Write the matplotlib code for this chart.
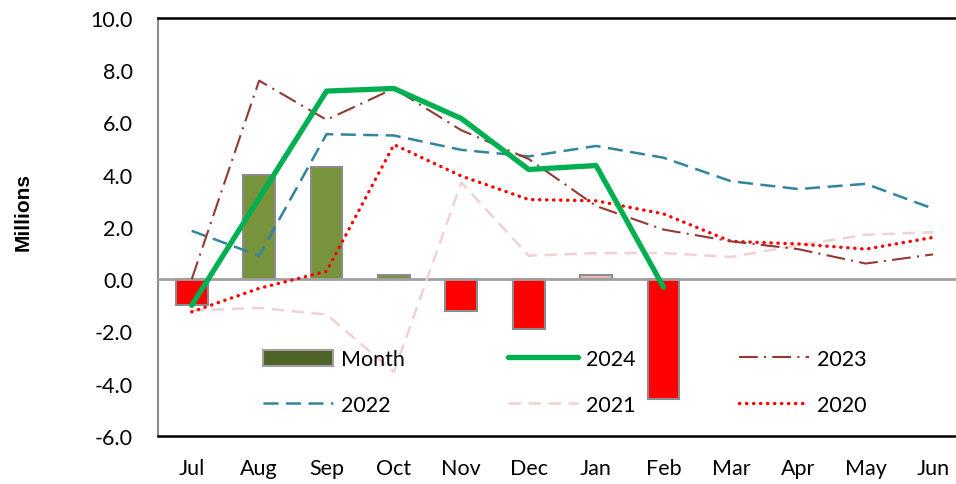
import numpy as np
import matplotlib.pyplot as plt
from matplotlib.patches import Patch
from matplotlib.lines import Line2D

months = ["Jul", "Aug", "Sep", "Oct", "Nov", "Dec", "Jan", "Feb", "Mar", "Apr", "May", "Jun"]

# monthly change (bars), only Jul-Feb reported
month_vals = [-1.0, 4.0, 4.3, 0.15, -1.2, -1.9, 0.15, -4.6]
month_colors = ["#FF0000", "#77933C", "#77933C", "#77933C", "#FF0000", "#FF0000", "#F4B8B8", "#FF0000"]

y2024 = [-1.0, 3.1, 7.2, 7.3, 6.15, 4.2, 4.35, -0.3]
y2023 = [0.0, 7.6, 6.1, 7.3, 5.7, 4.6, 2.8, 1.9, 1.45, 1.15, 0.6, 0.95]
y2022 = [1.85, 0.9, 5.55, 5.5, 4.95, 4.7, 5.1, 4.65, 3.75, 3.45, 3.65, 2.7]
y2021 = [-1.2, -1.1, -1.35, -3.55, 3.7, 0.9, 1.0, 1.0, 0.85, 1.3, 1.7, 1.8]
y2020 = [-1.25, -0.35, 0.3, 5.15, 3.95, 3.05, 3.0, 2.5, 1.45, 1.35, 1.15, 1.6]

plt.rcParams["font.family"] = ["Lato", "DejaVu Sans"]

fig = plt.figure(figsize=(9.56, 4.85), dpi=100)
ax = fig.add_axes([0.1653, 0.099, 0.846, 0.862])

x = np.arange(len(months))

ax.bar(x[:len(month_vals)], month_vals, width=0.47, color=month_colors,
       edgecolor="#8C8C8C", linewidth=1.5, zorder=2)
ax.axhline(0, color="#A0A0A0", lw=2, zorder=3)

ax.plot(x[:len(y2021)], y2021, color="#F0D2D2", lw=1.8, ls=(0, (5, 3)), zorder=4)
ax.plot(x[:len(y2022)], y2022, color="#31859C", lw=1.8, ls=(0, (6, 3)), zorder=4)
ax.plot(x[:len(y2020)], y2020, color="#FF0000", lw=2.4, ls=(0, (0.1, 2.0)),
        dash_capstyle="round", zorder=4)
ax.plot(x[:len(y2023)], y2023, color="#953735", lw=1.5, ls=(0, (9, 3, 1, 3)), zorder=4)
ax.plot(x[:len(y2024)], y2024, color="#00B050", lw=3.8, solid_capstyle="round", zorder=5)

ax.set_xlim(-0.5, 11.5)
ax.set_ylim(-6, 10)
ax.set_yticks(np.arange(-6, 10.1, 2))
ax.set_yticklabels([f"{v:.1f}" for v in np.arange(-6, 10.1, 2)])
ax.set_xticks(x)
ax.set_xticklabels(months)
ax.tick_params(axis="both", length=0, labelsize=15.5, colors="#000000")
ax.tick_params(axis="y", pad=18)
ax.tick_params(axis="x", pad=16)

ax.spines["left"].set_color("#8C8C8C")
ax.spines["left"].set_linewidth(1.5)
ax.spines["top"].set_color("black")
ax.spines["top"].set_linewidth(1.8)
ax.spines["bottom"].set_color("black")
ax.spines["bottom"].set_linewidth(1.8)
ax.spines["right"].set_visible(False)

handles = [
    Patch(facecolor="#4F6228", edgecolor="#A0A0A0", linewidth=1.5),
    Line2D([], [], color="#31859C", lw=1.8, ls=(0, (6, 3))),
    Line2D([], [], color="#00B050", lw=3.8, solid_capstyle="round"),
    Line2D([], [], color="#F0D2D2", lw=1.8, ls=(0, (5, 3))),
    Line2D([], [], color="#953735", lw=1.5, ls=(0, (9, 3, 1, 3))),
    Line2D([], [], color="#FF0000", lw=2.4, ls=(0, (0.1, 2.0)), dash_capstyle="round"),
]
labels = ["Month", "2022", "2024", "2021", "2023", "2020"]
fig.legend(handles, labels, ncol=3, loc="upper left", bbox_to_anchor=(0.2636, 0.30),
           frameon=False, fontsize=15.5, handlelength=3.25, handletextpad=0.37,
           columnspacing=4.8, labelspacing=1.2, borderpad=0, handleheight=0.8)

fig.text(0.0246, 0.563, "Millions", rotation=90, ha="center", va="center",
         fontsize=15, fontweight="bold", family=["Liberation Sans", "DejaVu Sans"])

fig.savefig("out.png", dpi=100)
